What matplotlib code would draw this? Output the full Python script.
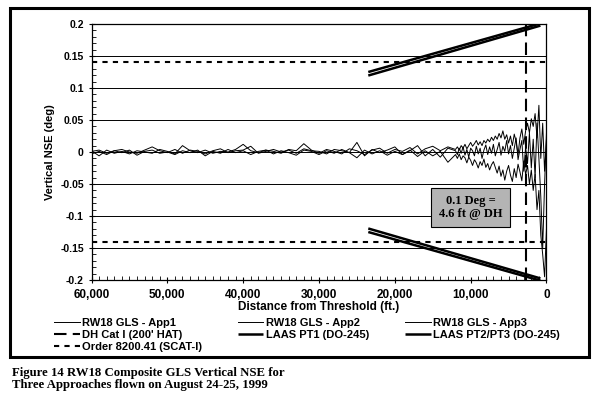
import matplotlib.pyplot as plt
from matplotlib.patches import Rectangle
from matplotlib.ticker import MultipleLocator, FuncFormatter

# distance from threshold (ft), shared by the three approach traces
dist = [60000, 59000, 58000, 57000, 56000, 55000, 54000, 53000, 52000, 51000,
        50000, 49000, 48000, 47000, 46000, 45000, 44000, 43000, 42000, 41000,
        40000, 39000, 38000, 37000, 36000, 35000, 34000, 33000, 32000, 31000,
        30000, 29000, 28000, 27000, 26000, 25000, 24000, 23000, 22000, 21000,
        20000, 19000, 18000, 17000, 16000, 15000, 14000, 13000,
        12000, 11750, 11500, 11250, 11000, 10750, 10500, 10250, 10000, 9750,
        9500, 9250, 9000, 8750, 8500, 8250, 8000, 7750, 7500, 7250,
        7000, 6750, 6500, 6250, 6000, 5750, 5500, 5250, 5000, 4750,
        4500, 4250, 4000, 3750, 3500, 3250, 3000, 2750, 2500, 2250,
        2000, 1750, 1500, 1250, 1000, 750, 500, 250, 0]

app1 = [0.002, -0.006, 0.003, -0.002, 0.001, -0.003, 0.002, 0.000, -0.002, 0.004,
        0.001, -0.003, 0.010, 0.002, -0.001, 0.003, -0.002, 0.001, 0.000, 0.004,
        0.012, 0.002, -0.001, 0.003, 0.001, -0.002, 0.004, 0.002, 0.013, 0.003,
        -0.002, 0.004, 0.001, -0.003, 0.005, 0.002, -0.004, 0.003, 0.006, -0.002,
        0.004, 0.001, 0.007, -0.003, 0.005, 0.009, 0.002, 0.008,
        0.004, 0.008, 0.003, 0.010, 0.006, 0.012, 0.005, 0.010, 0.015, 0.009,
        0.013, 0.018, 0.011, 0.016, 0.010, 0.018, 0.014, 0.020, 0.016, 0.023,
        0.018, 0.025, 0.020, 0.029, 0.022, 0.033, 0.020, 0.027, 0.014, 0.025,
        0.010, 0.028, 0.016, -0.004, 0.022, 0.036, 0.012, 0.033, 0.045, 0.030,
        0.052, 0.040, 0.060, 0.022, 0.073, -0.010, 0.045, -0.030, 0.020]

app2 = [-0.003, 0.001, -0.004, 0.002, -0.001, 0.003, -0.005, 0.001, 0.003, -0.002,
        0.000, -0.004, 0.002, -0.001, 0.003, -0.006, 0.001, -0.002, 0.004, -0.001,
        0.002, -0.004, 0.001, 0.003, -0.003, 0.002, -0.001, -0.005, 0.003, 0.001,
        -0.004, 0.002, -0.002, 0.004, -0.001, -0.009, 0.003, -0.003, 0.002, -0.005,
        0.001, -0.004, 0.003, -0.007, 0.002, -0.006, 0.001, -0.016,
        -0.004, -0.010, -0.003, -0.012, -0.006, -0.009, -0.017, -0.008, -0.013, -0.021,
        -0.012, -0.017, -0.025, -0.015, -0.021, -0.011, -0.024, -0.018, -0.028, -0.020,
        -0.015, -0.024, -0.033, -0.022, -0.038, -0.028, -0.044, -0.030, -0.021, -0.036,
        -0.046, -0.026, -0.040, -0.019, -0.031, -0.045, -0.014, -0.035, -0.021, -0.050,
        -0.028, -0.060, -0.035, -0.090, -0.060, -0.130, -0.160, -0.195, -0.120]

app3 = [0.001, 0.003, -0.002, 0.002, 0.004, 0.000, -0.002, 0.003, 0.008, 0.002,
        -0.001, 0.004, -0.002, 0.003, 0.001, -0.003, 0.002, 0.005, -0.001, 0.002,
        0.003, 0.009, -0.002, 0.001, 0.004, 0.000, 0.003, -0.002, 0.005, 0.002,
        0.001, -0.003, 0.004, 0.002, -0.001, 0.015, -0.006, 0.004, -0.001, 0.003,
        0.008, -0.004, 0.002, 0.010, -0.006, 0.004, -0.008, 0.006,
        0.002, -0.004, 0.006, -0.002, 0.008, -0.005, 0.004, -0.008, 0.006, 0.002,
        -0.006, 0.009, -0.003, 0.006, -0.010, 0.003, 0.011, -0.004, 0.008, -0.002,
        0.012, -0.006, 0.004, 0.015, -0.005, 0.009, 0.001, 0.018, -0.003, 0.010,
        -0.010, 0.006, 0.022, -0.012, 0.004, 0.018, -0.030, 0.008, -0.018, 0.030,
        -0.025, 0.020, -0.040, 0.045, -0.010, -0.070, -0.150, -0.050, 0.030]

# LAAS DO-245 limits (end points of the straight segments)
laas_dist = [23500, 800]
laas_pt1 = [0.1195, 0.1975]
laas_pt23 = [0.1250, 0.2010]

dh_dist = 2700          # DH Cat I (200' HAT)
order_limit = 0.14      # Order 8200.41 (SCAT-I)

sans = "Liberation Sans"
serif = "Liberation Serif"

fig = plt.figure(figsize=(6, 3.97), dpi=100)
ax = fig.add_axes([0.1525, 0.2947, 0.7583, 0.6448])

l1, = ax.plot(dist, app1, color="black", lw=0.7)
l2, = ax.plot(dist, app2, color="black", lw=0.7)
l3, = ax.plot(dist, app3, color="black", lw=0.7)

p1, = ax.plot(laas_dist, laas_pt1, color="black", lw=1.8, solid_capstyle="butt")
ax.plot(laas_dist, [-v for v in laas_pt1], color="black", lw=1.8, solid_capstyle="butt")
p23, = ax.plot(laas_dist, laas_pt23, color="black", lw=1.8, solid_capstyle="butt")
ax.plot(laas_dist, [-v for v in laas_pt23], color="black", lw=1.8, solid_capstyle="butt")

dh = ax.axvline(dh_dist, color="black", lw=1.5, dashes=(6, 3))
od = ax.axhline(order_limit, color="black", lw=1.5, dashes=(2.5, 2.5))
ax.axhline(-order_limit, color="black", lw=1.5, dashes=(2.5, 2.5))

ax.set_xlim(60000, 0)
ax.set_ylim(-0.2, 0.2)
ax.yaxis.set_major_locator(MultipleLocator(0.05))
ax.yaxis.set_minor_locator(MultipleLocator(0.01))
ax.xaxis.set_major_locator(MultipleLocator(10000))
ax.xaxis.set_minor_locator(MultipleLocator(1000))
ax.xaxis.set_major_formatter(FuncFormatter(lambda v, p: f"{int(v):,}"))
ax.yaxis.set_major_formatter(FuncFormatter(lambda v, p: f"{v:g}" if abs(v) > 1e-9 else "0"))
ax.grid(axis="y", color="black", lw=0.7)
ax.set_axisbelow(True)

ax.tick_params(axis="both", which="major", direction="inout", length=5, width=0.8)
ax.tick_params(axis="both", which="minor", direction="in", length=3, width=0.6)
ax.tick_params(axis="x", pad=4)
ax.tick_params(axis="y", pad=3)
for lab in ax.get_xticklabels():
    lab.set_fontfamily(sans)
    lab.set_fontweight("bold")
    lab.set_fontsize(8.5)
for lab in ax.get_yticklabels():
    lab.set_fontfamily(sans)
    lab.set_fontweight("bold")
    lab.set_fontsize(7.5)
for s in ax.spines.values():
    s.set_linewidth(0.9)

ax.set_xlabel("Distance from Threshold (ft.)", fontfamily=sans, fontweight="bold",
              fontsize=8.5, labelpad=0)
ax.set_ylabel("Vertical NSE (deg)", fontfamily=sans, fontweight="bold", fontsize=8)

ax.text(10000, -0.087, "0.1 Deg =\n4.6 ft @ DH", ha="center", va="center",
        fontfamily=serif, fontweight="bold", fontsize=9, linespacing=1.05,
        bbox=dict(boxstyle="square,pad=0.6", facecolor="#b4b4b4",
                  edgecolor="black", lw=0.8))

handles = [l1, dh, od, l2, p1, l3, p23]
labels = ["RW18 GLS - App1", "DH Cat I (200' HAT)", "Order 8200.41 (SCAT-I)",
          "RW18 GLS - App2", "LAAS PT1 (DO-245)",
          "RW18 GLS - App3", "LAAS PT2/PT3 (DO-245)"]
fig.legend(handles, labels, ncol=3, loc="upper left",
           bbox_to_anchor=(0.09, 0.200), frameon=False,
           prop={"family": sans, "weight": "bold", "size": 8},
           handlelength=2.3, handletextpad=0.25, columnspacing=3.2,
           labelspacing=0.2, borderaxespad=0, borderpad=0)

fig.add_artist(Rectangle((0.0167, 0.1008), 0.9650, 0.8790, transform=fig.transFigure,
                         fill=False, lw=2.2, ec="black"))

fig.text(0.02, 0.060, "Figure 14 RW18 Composite GLS Vertical NSE for",
         fontfamily=serif, fontweight="bold", fontsize=9.2, va="center")
fig.text(0.02, 0.030, "Three Approaches flown on August 24-25, 1999",
         fontfamily=serif, fontweight="bold", fontsize=9.2, va="center")

fig.savefig("out.png", dpi=100, facecolor="white")
